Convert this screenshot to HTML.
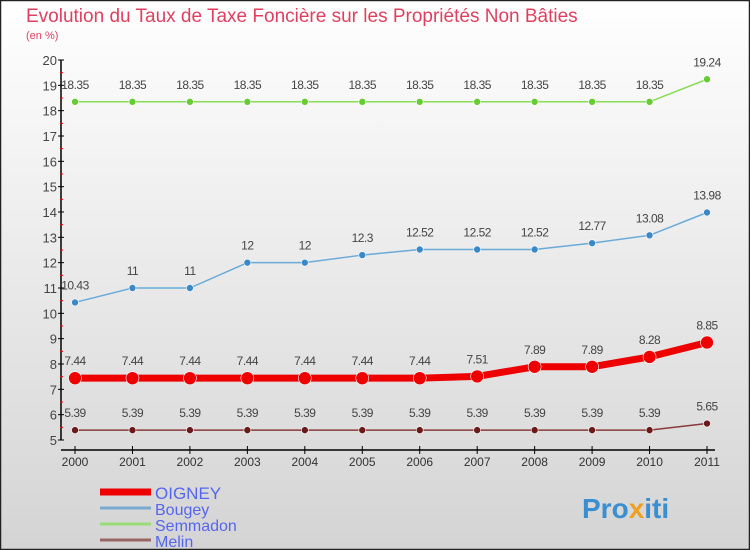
<!DOCTYPE html>
<html><head><meta charset="utf-8"><style>
body{margin:0}
#c{width:750px;height:550px;position:relative;overflow:hidden;font-family:"Liberation Sans",sans-serif}
</style></head><body>
<div id="c">
<svg id="s" width="750" height="550" xmlns="http://www.w3.org/2000/svg">
<defs><linearGradient id="bg" x1="0" y1="0" x2="0" y2="1"><stop offset="0" stop-color="#ffffff"/><stop offset="1" stop-color="#d4d4d4"/></linearGradient></defs>
<rect x="0.5" y="0.5" width="749" height="549" fill="url(#bg)" stroke="#222" stroke-width="1.5"/>
<text x="26" y="22" font-size="19" fill="#e04060">Evolution du Taux de Taxe Foncière sur les Propriétés Non Bâties</text>
<text x="26" y="39" font-size="11" fill="#e04060">(en %)</text>
<g id="axes"></g><g id="series"></g><g id="legend"></g>
<text x="582" y="518" font-size="28" font-weight="bold" fill="#3a8fd0">Pro<tspan fill="#f0a020">x</tspan>iti</text>
</svg>
</div>
<script>
const years=[2000,2001,2002,2003,2004,2005,2006,2007,2008,2009,2010,2011];
const yTicks=[5,6,7,8,9,10,11,12,13,14,15,16,17,18,19,20];
const seriesNames=["OIGNEY","Bougey","Semmadon","Melin"];
const oigney=[7.44,7.44,7.44,7.44,7.44,7.44,7.44,7.51,7.89,7.89,8.28,8.85];
const bougey=[10.43,11,11,12,12,12.3,12.52,12.52,12.52,12.77,13.08,13.98];
const semmadon=[18.35,18.35,18.35,18.35,18.35,18.35,18.35,18.35,18.35,18.35,18.35,19.24];
const melin=[5.39,5.39,5.39,5.39,5.39,5.39,5.39,5.39,5.39,5.39,5.39,5.65];
const NS="http://www.w3.org/2000/svg";
const xs=i=>75+i*(707-75)/(years.length-1);
const ys=v=>440-(v-5)*(440-60)/15;
function mk(t,a,p){const e=document.createElementNS(NS,t);for(const k in a)e.setAttribute(k,a[k]);p.appendChild(e);return e;}
const ax=document.getElementById('axes');
let l=mk('line',{x1:61,y1:60,x2:61,y2:440,stroke:'#000','stroke-width':1.5},ax);


l=mk('line',{x1:61,y1:450,x2:715,y2:450,stroke:'#000','stroke-width':1.5},ax);


yTicks.forEach((v,i)=>{
 mk('line',{x1:58,y1:ys(v),x2:64,y2:ys(v),stroke:'#000'},ax);
 if(i<yTicks.length-1)mk('line',{x1:60,y1:ys(v+0.5),x2:63,y2:ys(v+0.5),stroke:'#e00'},ax);
 const t=mk('text',{x:57,y:ys(v)+5,'text-anchor':'end','font-size':13,fill:'#444'},ax);t.textContent=v;
 
 
});
years.forEach((y,i)=>{
 mk('line',{x1:xs(i),y1:446,x2:xs(i),y2:454,stroke:'#000'},ax);
 const t=mk('text',{x:xs(i),y:466,'text-anchor':'middle','font-size':12,fill:'#333'},ax);t.textContent=y;
 
 
});
const sg=document.getElementById('series');
const defs=[[semmadon,'#88dd55','#66cc33',1.5,3.5,'semmadon'],[bougey,'#6aaad8','#3a88c8',1.5,3.5,'bougey'],[melin,'#8a3a3a','#6a1a1a',1.5,3.5,'melin'],[oigney,'#ee0000','#ee0000',7,6.5,'oigney']];
defs.forEach(([d,lc,pc,w,r,n])=>{
 const g=mk('g',{},sg);
 
 
 mk('polyline',{points:d.map((v,i)=>xs(i)+','+ys(v)).join(' '),fill:'none',stroke:lc,'stroke-width':w,'stroke-linejoin':'round'},g);
 d.forEach((v,i)=>{
  const c=mk('circle',{cx:xs(i),cy:ys(v),r:r,fill:pc,stroke:'#fff','stroke-width':0.6},g);
  
  
  const t=mk('text',{x:xs(i),y:ys(v)-13,'text-anchor':'middle','font-size':12,fill:'#444','letter-spacing':'-0.5'},g);
  t.textContent=v;
  
  
 });
});
const lg=document.getElementById('legend');
const lcols=['#ee0000','#7aaad0','#99dd77','#996666'];
seriesNames.forEach((n,i)=>{
 const y=492+i*16;
 const g=mk('g',{},lg);
 
 
 mk('line',{x1:100,y1:y,x2:151,y2:y,stroke:lcols[i],'stroke-width':i==0?7:3},g);
 const t=mk('text',{x:155,y:y+7,'font-size':i==0?17:16,fill:'#5566ee'},g);t.textContent=n;
});
</script>
</body></html>
